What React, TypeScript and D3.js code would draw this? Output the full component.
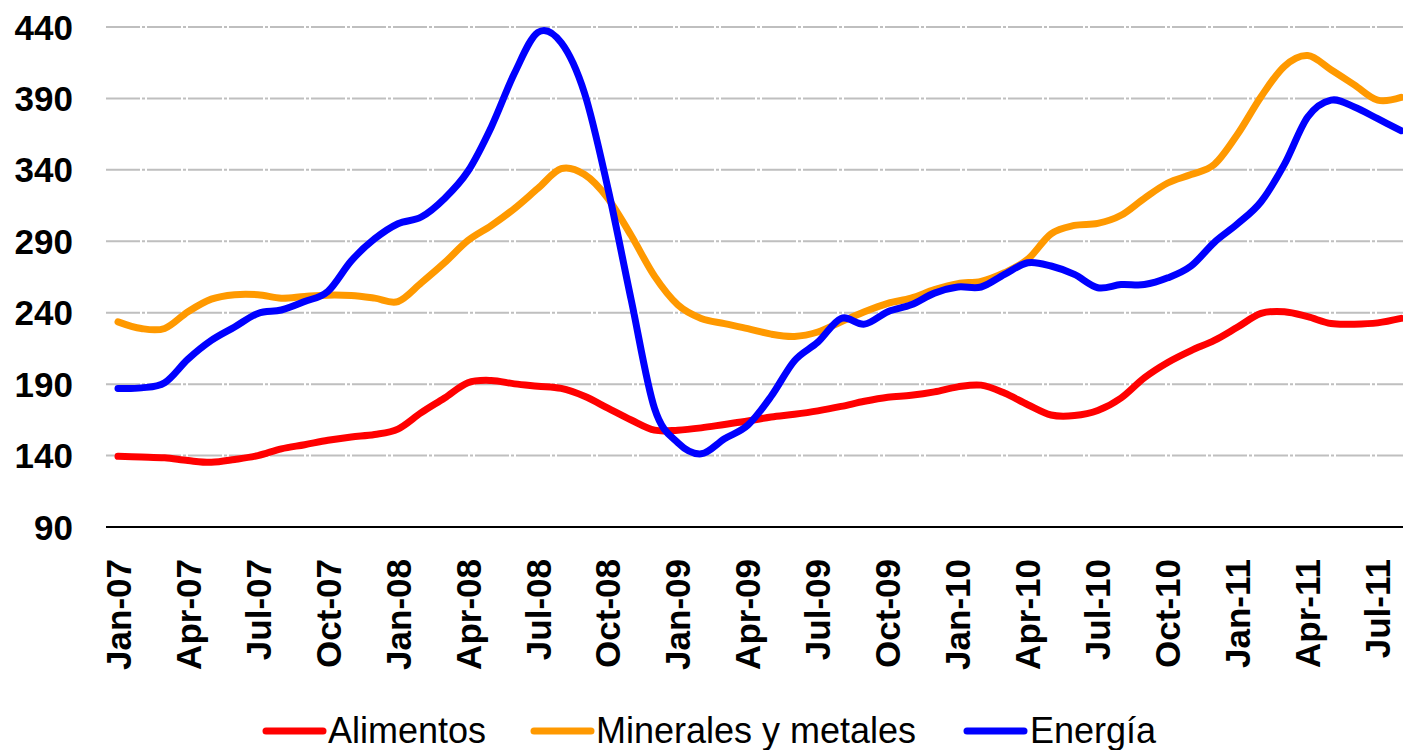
import React from "react";
import * as d3 from "d3";

const months = [
  "Jan-07","Feb-07","Mar-07","Apr-07","May-07","Jun-07","Jul-07","Aug-07","Sep-07","Oct-07","Nov-07","Dec-07",
  "Jan-08","Feb-08","Mar-08","Apr-08","May-08","Jun-08","Jul-08","Aug-08","Sep-08","Oct-08","Nov-08","Dec-08",
  "Jan-09","Feb-09","Mar-09","Apr-09","May-09","Jun-09","Jul-09","Aug-09","Sep-09","Oct-09","Nov-09","Dec-09",
  "Jan-10","Feb-10","Mar-10","Apr-10","May-10","Jun-10","Jul-10","Aug-10","Sep-10","Oct-10","Nov-10","Dec-10",
  "Jan-11","Feb-11","Mar-11","Apr-11","May-11","Jun-11","Jul-11","Aug-11",
];

const xTickLabels = [
  "Jan-07","Apr-07","Jul-07","Oct-07","Jan-08","Apr-08","Jul-08","Oct-08","Jan-09","Apr-09",
  "Jul-09","Oct-09","Jan-10","Apr-10","Jul-10","Oct-10","Jan-11","Apr-11","Jul-11",
];

const yTicks = [90, 140, 190, 240, 290, 340, 390, 440];

const alimentos = [
  139.5, 139, 138.4, 136.5, 135.3, 137.3, 140, 144.7, 147.6, 150.7, 153, 154.7,
  158.5, 170, 180.3, 191, 192.6, 190.2, 188.6, 187, 181.5, 173.2, 164.9, 157.8,
  157.8, 159.4, 161.8, 164.2, 167, 168.9, 171.3, 174.4, 178, 180.8, 182.2, 184.6,
  188.1, 189.3, 183.8, 175.6, 168.4, 168, 171.5, 180.3, 194.5, 205.2, 213.5, 220.6,
  230, 239.5, 240.7, 237.2, 232.4, 232, 232.9, 236,
];

const minerales = [
  233.6, 228.9, 229, 240.7, 249.5, 252.6, 252.6, 250.2, 251.4, 252.3, 252, 250.2,
  247.8, 260.9, 275, 290.5, 301, 313, 327, 340.8, 336.7, 320.1, 294, 265.6,
  245.5, 236, 232.4, 228.9, 225, 223.4, 226.5, 233.6, 240.7, 246.6, 250.2, 256.1,
  260.4, 262, 268, 277.4, 295.2, 301.1, 302.5, 308.2, 320.1, 330.8, 336.7, 343.8,
  365.1, 391.2, 412.5, 420, 410.1, 399.5, 388.8, 390.7,
];

const energia = [
  187, 187.4, 191, 207.5, 220.6, 230, 239.5, 241.9, 247.8, 255, 276.3, 291.7,
  302.3, 307, 320, 339, 369.9, 407.8, 436.2, 429, 393.6, 327.2, 249, 173,
  149, 141.2, 151.8, 161.3, 181.5, 206.4, 219.4, 236, 232, 240.7, 245.5, 253.7,
  258, 258, 266.8, 275, 272.7, 266.8, 257.5, 259.7, 259.7, 264.4, 272.7, 289.3,
  302.3, 317.7, 343.8, 377, 388.8, 384, 375.8, 367.5,
];

const seriesNames = ["Alimentos", "Minerales y metales", "Energía"];
const seriesColors = ["#FF0000", "#FF9900", "#0000FF"];

const W = 1403;
const H = 750;
const plotLeft = 106;
const plotRight = 1403;
const plotTop = 27;
const plotBottom = 527;
const font = "Liberation Sans, Arial, sans-serif";

export default function App() {
  const x = d3
    .scalePoint<string>()
    .domain(months)
    .range([118, 1401]);
  const y = d3.scaleLinear().domain([90, 440]).range([plotBottom, plotTop]);

  const line = d3
    .line<number>()
    .x((_, i) => x(months[i]) as number)
    .y((d) => y(d))
    .curve(d3.curveCardinal.tension(0));

  const allSeries = [alimentos, minerales, energia];
  const legendPos = [
    { lx: 266, tx: 328 },
    { lx: 534, tx: 596 },
    { lx: 967, tx: 1030 },
  ];

  return (
    <svg
      width={W}
      height={H}
      style={{ position: "absolute", left: 0, top: 0, background: "#fff" }}
      fontFamily={font}
    >
      <rect x={0} y={0} width={W} height={H} fill="#fff" />
      {yTicks.map((t) =>
        t === 90 ? null : (
          <line
            key={"g" + t}
            x1={plotLeft}
            x2={plotRight}
            y1={y(t)}
            y2={y(t)}
            stroke="#BFBFBF"
            strokeWidth={2}
            strokeDasharray="34 2 3 2"
          />
        )
      )}
      <line x1={plotLeft} x2={plotRight} y1={plotBottom} y2={plotBottom} stroke="#000" strokeWidth={2} />
      {yTicks.map((t) => (
        <text
          key={"y" + t}
          x={73}
          y={y(t)}
          dy="0.36em"
          textAnchor="end"
          fontSize={35}
          fontWeight="bold"
          fill="#000"
        >
          {t}
        </text>
      ))}
      {xTickLabels.map((m) => (
        <text
          key={"x" + m}
          transform={`translate(${x(m)},559) rotate(-90)`}
          dy="0.36em"
          textAnchor="end"
          fontSize={35}
          fontWeight="bold"
          fill="#000"
        >
          {m}
        </text>
      ))}
      {allSeries.map((s, k) => (
        <path
          key={"s" + k}
          d={line(s) as string}
          fill="none"
          stroke={seriesColors[k]}
          strokeWidth={7}
          strokeLinejoin="round"
          strokeLinecap="round"
        />
      ))}
      {seriesNames.map((n, k) => (
        <g key={"l" + k}>
          <line
            x1={legendPos[k].lx}
            x2={legendPos[k].lx + 57}
            y1={731}
            y2={731}
            stroke={seriesColors[k]}
            strokeWidth={7}
            strokeLinecap="round"
          />
          <text x={legendPos[k].tx} y={743} fontSize={36} fill="#000">
            {n}
          </text>
        </g>
      ))}
    </svg>
  );
}
